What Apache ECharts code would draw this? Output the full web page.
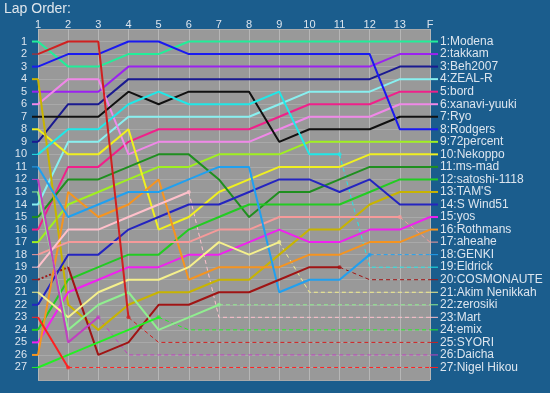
<!DOCTYPE html>
<html><head><meta charset="utf-8">
<script src="https://cdn.jsdelivr.net/npm/echarts@6/dist/echarts.min.js"></script>
<style>html,body{margin:0;padding:0;background:#1b5d8d;}#c{width:550px;height:393px;}</style>
</head><body><div id="c"></div>
<script>
const lapLabels = ['1','2','3','4','5','6','7','8','9','10','11','12','13','F'];
const drivers = ['Modena','takkam','Beh2007','ZEAL-R','bord','xanavi-yuuki','Ryo','Rodgers','72percent','Nekoppo','ms-mad','satoshi-1118',"TAM'S",'S Wind51','yos','Rothmans','aheahe','GENKI','Eldrick','COSMONAUTE','Akim Nenikkah','zerosiki','Mart','emix','SYORI','Daicha','Nigel Hikou'];

// position per lap (laps 1..13, F)
const posModena     = [1,3,3,2,2,1,1,1,1,1,1,1,1,1];
const posTakkam     = [5,5,5,3,3,3,3,3,3,3,3,3,2,2];
const posBeh2007    = [9,6,6,4,4,4,4,4,4,4,4,4,3,3];
const posZealR      = [14,9,9,7,7,7,7,7,6,5,5,5,4,4];
const posBord       = [16,11,11,9,8,8,8,8,7,6,6,6,5,5];
const posXanavi     = [6,4,4,10,9,9,9,9,8,7,7,7,6,6];
const posRyo        = [7,7,7,5,6,5,5,5,9,8,8,8,7,7];
const posRodgers    = [3,2,2,1,1,2,2,2,2,2,2,2,8,8];
const pos72percent  = [17,14,13,12,11,11,10,10,10,9,9,9,9,9];
const posNekoppo    = [8,10,10,8,16,15,13,12,11,11,11,10,10,10];
const posMsMad      = [15,12,12,11,10,10,12,15,13,13,12,11,11,11];
const posSatoshi    = [24,20,19,18,18,16,15,14,14,14,14,13,12,12];
const posTams       = [4,22,24,22,21,21,20,20,18,16,16,14,13,13];
const posSWind51    = [22,18,18,16,15,14,14,13,12,12,13,12,14,14];
const posYos        = [25,21,20,19,19,18,18,17,16,17,17,16,16,15];
const posRothmans   = [26,13,15,14,12,20,19,19,19,18,18,17,17,16];
const posAheahe     = [18,17,17,17,17,17,16,16,15,15,15,15,15,17];
const posGenki      = [11,15,14,13,13,12,11,11,21,20,20,18,18,18];
const posEldrick    = [10,8,8,6,5,6,6,6,5,10,10,19,19,19];
const posCosmonaute = [20,19,26,25,22,22,21,21,20,19,19,20,20,20];
const posAkim       = [21,23,21,20,20,19,17,18,17,21,21,21,21,21];
const posZerosiki   = [13,24,22,21,24,23,22,22,22,22,22,22,22,22];
const posMart       = [19,16,16,15,14,13,23,23,23,23,23,23,23,23];
const posEmix       = [27,26,25,24,23,24,24,24,24,24,24,24,24,24];
const posSyori      = [2,1,1,23,25,25,25,25,25,25,25,25,25,25];
const posDaicha     = [12,25,23,26,26,26,26,26,26,26,26,26,26,26];
const posNigel      = [23,27,27,27,27,27,27,27,27,27,27,27,27,27];

// lap where the driver retired (solid line ends, dashed to final position), null = finished
const retiredLap = [null,null,null,null,null,null,null,null,null,null,null,null,null,null,null,null,13,12,11,11,9,7,6,5,4,3,2];
// lap until which the first segment is dotted (1 = none)
const dottedUntil = [1,1,1,1,1,1,1,1,1,1,1,1,1,1,1,1,1,1,1,2,1,1,1,1,1,1,1];

const colors = ['#22ee99','#9b22f0','#1a1a90','#88f0f0','#f0208a','#f088e8','#111111','#1a1af0','#a0f020','#f0f020','#1f8f1f','#22cc22','#c8b400','#2424c0','#f020f0','#f59420','#f59a9a','#20a0f0','#20e8e8','#a01414','#f5f08c','#90ee90','#ffc0cb','#22f022','#d02020','#c040c0','#ff2020'];

const positions = [posModena,posTakkam,posBeh2007,posZealR,posBord,posXanavi,posRyo,posRodgers,pos72percent,posNekoppo,posMsMad,posSatoshi,posTams,posSWind51,posYos,posRothmans,posAheahe,posGenki,posEldrick,posCosmonaute,posAkim,posZerosiki,posMart,posEmix,posSyori,posDaicha,posNigel];

const FONT = "'Liberation Sans', Arial, sans-serif";
const LABEL = '#dce5ee';
const nLaps = lapLabels.length;

const series = [];
const markers = [];
drivers.forEach((name, i) => {
  const p = positions[i];
  const r = retiredLap[i] || nLaps;
  const d = dottedUntil[i];
  const pts = (a, b) => { const o = []; for (let l = a; l <= b; l++) o.push([l, p[l-1]]); return o; };
  if (d > 1) series.push({type:'line', data: pts(1, d), symbol:'none', silent:true,
    lineStyle:{color:colors[i], width:2, type:[2,2]}, z:2});
  series.push({type:'line', name, data: pts(d, r), symbol:'none', silent:true,
    lineStyle:{color:colors[i], width:2}, z:3});
  if (r < nLaps) {
    series.push({type:'line', data: pts(r, nLaps), symbol:'none', silent:true,
      lineStyle:{color:colors[i], width:1, type:[4,3]}, z:2});
    markers.push({value:[r, p[r-1]], itemStyle:{color:colors[i]}});
  }
});
series.push({type:'scatter', data: markers, symbol:'circle', symbolSize:4, silent:true, z:4});

const rich = {n:{color:LABEL, fontSize:11, fontFamily:FONT, padding:[0,5,0,0], verticalAlign:'middle'},
              t:{color:LABEL, fontSize:12, fontFamily:FONT, padding:[0,0,0,2], verticalAlign:'middle'}};
drivers.forEach((nm, i) => {
  rich['s'+i] = {backgroundColor:colors[i], width:6, height:retiredLap[i] ? 1 : 2, verticalAlign:'middle'};
  rich['r'+i] = {backgroundColor:colors[i], width:8, height:retiredLap[i] ? 1 : 2, verticalAlign:'middle'};
});

const chart = echarts.init(document.getElementById('c'), null, {renderer:'canvas'});
chart.setOption({
  animation:false,
  backgroundColor:'#1b5d8d',
  title:{text:'Lap Order:', left:4, top:2, padding:0, textStyle:{color:'#dfe6ec', fontSize:14, fontWeight:'normal', fontFamily:FONT}},
  grid:{left:38, right:120, top:29, bottom:13, show:true, backgroundColor:'#999999', borderWidth:0},
  xAxis:{type:'value', min:1, max:nLaps, interval:1, position:'top',
    axisLine:{show:false}, axisTick:{show:false},
    axisLabel:{color:LABEL, fontSize:11, fontFamily:FONT, margin:-1, formatter:v => lapLabels[v-1] || ''},
    splitLine:{show:true, lineStyle:{color:'#b6b6b6', width:1}}},
  yAxis:[
    {type:'value', min:0, max:28, interval:1, inverse:true, position:'left',
      axisLine:{show:false}, axisTick:{show:false},
      splitLine:{show:true, lineStyle:{color:'#a9a9a9', width:1}},
      axisLabel:{margin:0, rich, formatter:v => {
        if (v < 1 || v > drivers.length) return '';
        const i = positions.findIndex(p => p[0] === v);
        return '{n|' + v + '}{s' + i + '| }';
      }}},
    {type:'value', min:0, max:28, interval:1, inverse:true, position:'right',
      axisLine:{show:false}, axisTick:{show:false}, splitLine:{show:false},
      axisLabel:{margin:0, rich, formatter:v => {
        if (v < 1 || v > drivers.length) return '';
        const i = positions.findIndex(p => p[nLaps-1] === v);
        return '{r' + i + '| }{t|' + v + ':' + drivers[i] + '}';
      }}}
  ],
  series
});
</script></body></html>
